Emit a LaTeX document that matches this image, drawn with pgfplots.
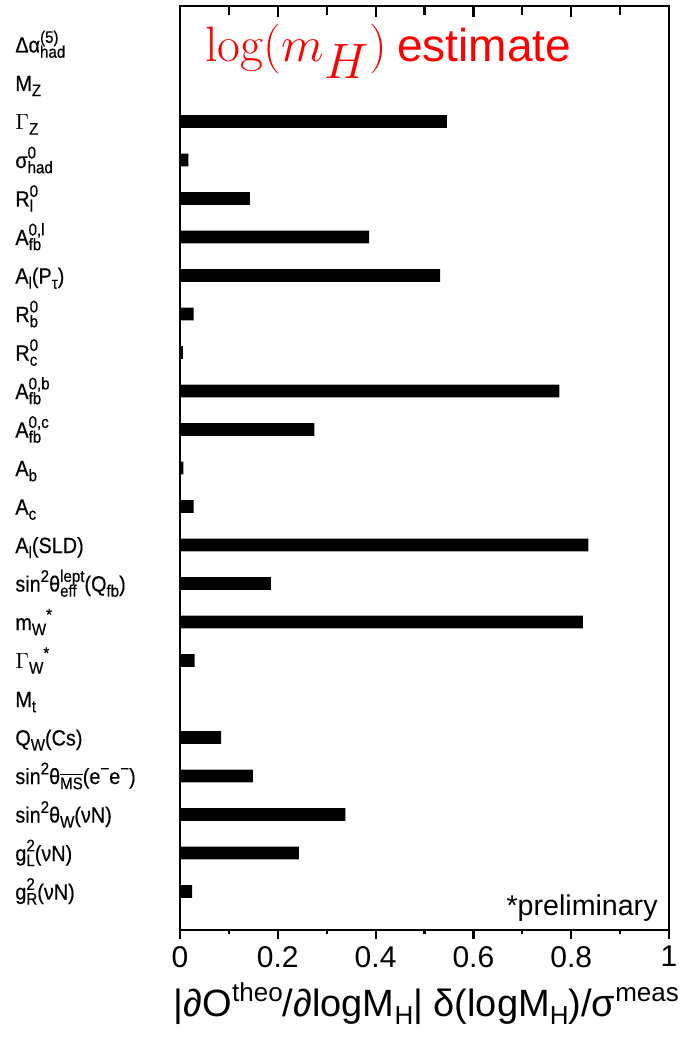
\documentclass[border=0pt]{standalone}
\usepackage[no-math]{fontspec}
\setmainfont{Liberation Sans}
\newfontfamily\labfont[FakeStretch=0.9,FakeBold=0.4]{Liberation Sans}
\usepackage{pgfplots}
\usepackage{pgfplotstable}
\pgfplotsset{compat=1.18}
\newcommand{\subs}[1]{\raisebox{-2.6pt}{\fontsize{8.4}{8.4}\selectfont #1}}
\newcommand{\sups}[1]{\raisebox{4.8pt}{\fontsize{8.4}{8.4}\selectfont #1}}
\newcommand{\supsub}[2]{{\setbox0=\hbox{\sups{#1}}\setbox2=\hbox{\subs{#2}}\ifdim\wd0>\wd2\relax\rlap{\box2}\box0\else\rlap{\box0}\box2\fi}}
\newcommand{\Sub}[1]{\raisebox{-4pt}{\fontsize{13}{13}\selectfont #1}}
\newcommand{\Sup}[1]{\raisebox{7.5pt}{\fontsize{13}{13}\selectfont #1}}

\pgfplotstableread{
pos val
0 0
1 0
2 0.546
3 0.017
4 0.143
5 0.387
6 0.532
7 0.028
8 0.006
9 0.776
10 0.275
11 0.007
12 0.028
13 0.835
14 0.186
15 0.824
16 0.030
17 0
18 0.084
19 0.149
20 0.338
21 0.243
22 0.025
}\datatable

\begin{document}
\begin{tikzpicture}
\begin{axis}[
  scale only axis, width=244.5pt, height=462pt,
  xmin=0, xmax=1, ymin=-1, ymax=23, y dir=reverse,
  xbar, bar width=0.33,
  axis line style={line width=1.2pt},
  xtick={0,0.2,0.4,0.6,0.8,1}, minor x tick num=1,
  xticklabels={0,0.2,0.4,0.6,0.8,1},
  tick align=outside, xtick pos=bottom,
  major tick length=4.5pt, minor tick length=2.2pt,
  tick style={line width=1.1pt, black},
  ytick={0,...,22},
  yticklabels={
    {Δα\supsub{(5)}{had}},
    {M\subs{Z}},
    {$\Gamma$\subs{Z}},
    {σ\supsub{0}{had}},
    {R\supsub{0}{l}},
    {A\supsub{0,l}{fb}},
    {A\subs{l}(P\subs{τ})},
    {R\supsub{0}{b}},
    {R\supsub{0}{c}},
    {A\supsub{0,b}{fb}},
    {A\supsub{0,c}{fb}},
    {A\subs{b}},
    {A\subs{c}},
    {A\subs{l}(SLD)},
    {sin\sups{2}θ\supsub{lept}{eff}(Q\subs{fb})},
    {m\subs{W}\sups{*}},
    {$\Gamma$\subs{W}\sups{*}},
    {M\subs{t}},
    {Q\subs{W}(Cs)},
    {sin\sups{2}θ\subs{$\overline{\hbox{MS}}$}(e\sups{−}e\sups{−})},
    {sin\sups{2}θ\subs{W}(νN)},
    {g\supsub{2}{L}(νN)},
    {g\supsub{2}{R}(νN)}
  },
  ytick style={draw=none},
  yticklabel style={anchor=base west, inner sep=0pt, xshift=-78pt, yshift=-4pt, font=\labfont\fontsize{11}{11}\selectfont},
  xticklabel style={font=\fontsize{15}{15}\selectfont},
  /pgf/number format/assume math mode=true,
  xlabel={|∂O\Sup{theo}/∂logM\Sub{H}| δ(logM\Sub{H})/σ\Sup{meas}},
  xlabel style={font=\fontsize{19}{19}\selectfont, anchor=base, at={(axis description cs:0.504,-0.094)}},
]
\addplot[fill=black, draw=none] table[x=val, y=pos] {\datatable};
\node[anchor=base west, text=red, inner sep=0pt] at (axis description cs:0.051,0.94) {\fontsize{35}{35}\selectfont$\log(m_H)$\kern5pt\fontsize{23}{23}\selectfont estimate};
\node[anchor=base east, inner sep=0pt] at (axis description cs:0.9775,0.016) {\fontsize{14.3}{14.3}\selectfont *preliminary};
\end{axis}
\begin{axis}[
  scale only axis, width=244.5pt, height=462pt,
  xmin=0, xmax=1, ymin=-1, ymax=23,
  axis x line*=top, hide y axis,
  xtick={0,0.2,0.4,0.6,0.8,1}, minor x tick num=1,
  xticklabels={},
  tick align=inside,
  major tick length=5.5pt, minor tick length=4.5pt,
  tick style={line width=1.1pt, black},
  axis line style={line width=1.2pt},
]
\end{axis}
\pgfresetboundingbox
\path[use as bounding box] ([xshift=-90pt,yshift=-55.5pt]current axis.south west) rectangle ([xshift=8.5pt,yshift=3pt]current axis.north east);
\end{tikzpicture}
\end{document}
